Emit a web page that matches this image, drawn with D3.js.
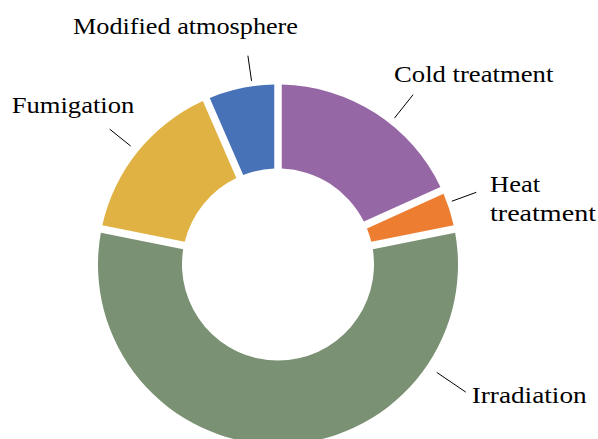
<!DOCTYPE html>
<html>
<head>
<meta charset="utf-8">
<script src="https://cdn.jsdelivr.net/npm/d3@7"></script>
<style>
  html, body { margin: 0; padding: 0; background: #fff; }
  svg { display: block; }
  text.lbl { font-family: "Liberation Serif", "Times New Roman", Times, "DejaVu Serif", serif; }
  text.lbl2 { font-family: "DejaVu Serif", serif; }
</style>
</head>
<body>
<svg id="chart" width="598" height="439"></svg>
<script>
// ---- data ----
const categories = ["Cold treatment", "Heat treatment", "Irradiation", "Fumigation", "Modified atmosphere"];
const values = [6, 1, 19, 5, 2];
const colors = ["#9667A5", "#ED7D31", "#7A9174", "#E0B243", "#4872B7"];
// label text lines (as shown on the chart)
const labelLines = [["Cold treatment"], ["Heat", "treatment"], ["Irradiation"], ["Fumigation"], ["Modified atmosphere"]];

// ---- layout (not data) ----
const W = 598, H = 439;
const cx = 278, cy = 264.5;
const outerR = 180, innerR = 96;
const gap = 7.5;
const labelLayout = [
  { ang: 38.5, r1: 187, r2: 217, x: 394, y: 81.7, lh: 0, widths: [159.3] },
  { ang: 70.0, r1: 185, r2: 211, x: 490, y: 192.3, lh: 28.7, widths: [50, 106] },
  { ang: 124.2, r1: 192, r2: 227, x: 471.7, y: 403.3, lh: 0, widths: [115] },
  { ang: 308.8, r1: 189, r2: 216, x: 11.7, y: 113.3, lh: 0, widths: [122.6] },
  { ang: 351.8, r1: 185.5, r2: 211, x: 73, y: 34.3, lh: 0, widths: [225] }
];

const svg = d3.select("#chart");
const g = svg.append("g").attr("transform", `translate(${cx},${cy})`);

const pie = d3.pie().sort(null).value(d => d.value).startAngle(0).endAngle(2 * Math.PI)
  .padAngle(gap / outerR);
const arc = d3.arc().innerRadius(innerR).outerRadius(outerR).padRadius(outerR);

const data = categories.map((c, i) => ({ name: c, value: values[i], color: colors[i] }));
const arcs = pie(data);

g.selectAll("path.slice")
  .data(arcs)
  .join("path")
  .attr("class", "slice")
  .attr("d", arc)
  .attr("fill", d => d.data.color);

const rad = a => a * Math.PI / 180;
g.selectAll("line.leader")
  .data(labelLayout)
  .join("line")
  .attr("class", "leader")
  .attr("x1", d => d.r1 * Math.sin(rad(d.ang)))
  .attr("y1", d => -d.r1 * Math.cos(rad(d.ang)))
  .attr("x2", d => d.r2 * Math.sin(rad(d.ang)))
  .attr("y2", d => -d.r2 * Math.cos(rad(d.ang)))
  .attr("stroke", "#000")
  .attr("stroke-width", 1);

labelLayout.forEach((L, i) => {
  labelLines[i].forEach((line, j) => {
    svg.append("text")
      .attr("class", "lbl")
      .attr("x", L.x)
      .attr("y", L.y + j * L.lh)
      .style("font-size", "24px")
      .attr("fill", "#000")
      .attr("textLength", L.widths[j])
      .attr("lengthAdjust", "spacingAndGlyphs")
      .text(line);
  });
});
</script>
</body>
</html>
